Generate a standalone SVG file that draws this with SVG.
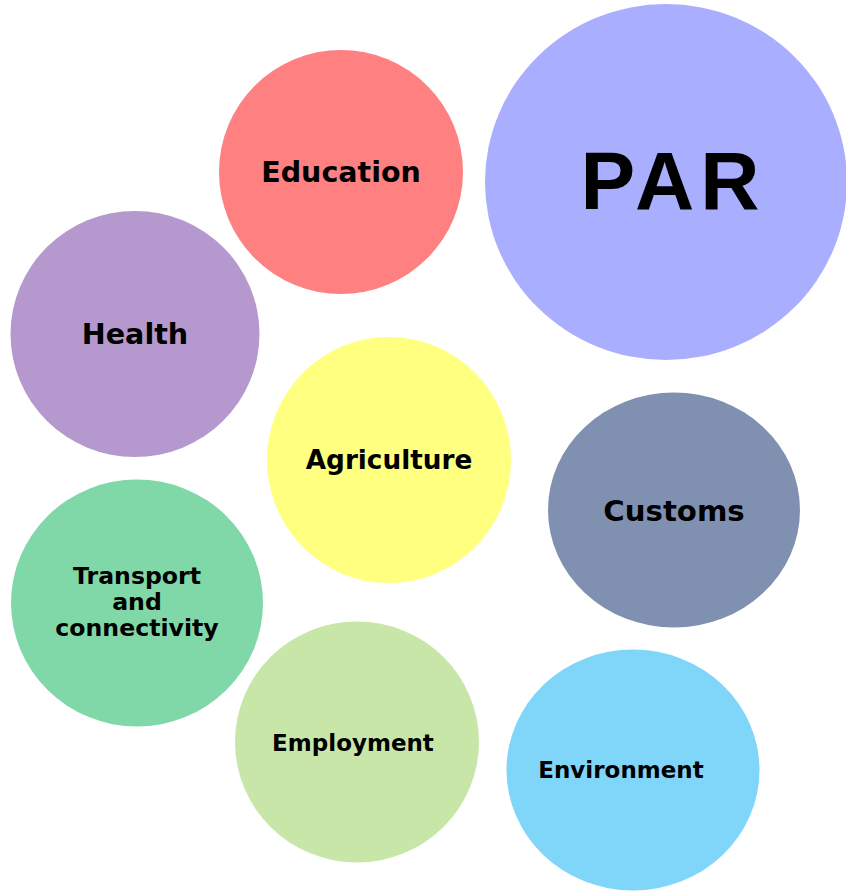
<svg xmlns="http://www.w3.org/2000/svg" width="846" height="893" viewBox="0 0 846 893">
<style>
.lbl{font-family:"DejaVu Sans",Verdana,sans-serif;font-weight:bold;fill:#000;text-anchor:middle}
.big{font-family:"Liberation Sans",Arial,sans-serif;font-weight:bold;fill:#000;text-anchor:middle}
</style>
<rect width="846" height="893" fill="#fff"/>
<g id="connectors"></g>
<g id="par">
<ellipse cx="666" cy="182" rx="181" ry="178" fill="#AAAEFE"/>
<text class="big" x="673" y="209" font-size="82" letter-spacing="6">PAR</text>
</g>
<g id="education">
<ellipse cx="341" cy="172" rx="122" ry="122" fill="#FF8080"/>
<text class="lbl" x="341" y="182" font-size="28.5">Education</text>
</g>
<g id="health">
<ellipse cx="135" cy="334" rx="124.5" ry="123" fill="#B598CE"/>
<text class="lbl" x="135" y="344" font-size="28.6">Health</text>
</g>
<g id="agriculture">
<ellipse cx="389" cy="460" rx="122" ry="123" fill="#FFFF80"/>
<text class="lbl" x="389" y="469" font-size="26.3">Agriculture</text>
</g>
<g id="customs">
<ellipse cx="674" cy="510" rx="126" ry="117.5" fill="#8090B0"/>
<text class="lbl" x="674" y="521" font-size="29.2">Customs</text>
</g>
<g id="transport">
<ellipse cx="137" cy="603" rx="126" ry="123.5" fill="#80D8A8"/>
<text class="lbl" font-size="23.6"><tspan x="137" y="584">Transport</tspan><tspan x="137" y="610">and</tspan><tspan x="137" y="636">connectivity</tspan></text>
</g>
<g id="employment">
<ellipse cx="357" cy="742" rx="122" ry="120.5" fill="#C8E6A8"/>
<text class="lbl" x="353" y="751" font-size="23">Employment</text>
</g>
<g id="environment">
<ellipse cx="633" cy="770" rx="126.5" ry="120.5" fill="#80D6F8"/>
<text class="lbl" x="621" y="778" font-size="23">Environment</text>
</g>
</svg>
